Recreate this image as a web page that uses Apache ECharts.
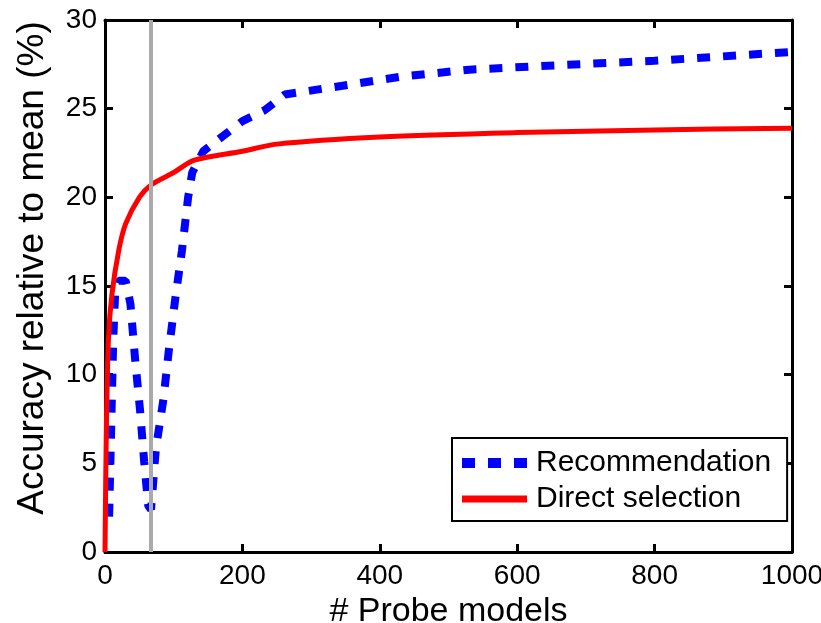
<!DOCTYPE html>
<html>
<head>
<meta charset="utf-8">
<script src="https://cdn.jsdelivr.net/npm/echarts@6/dist/echarts.min.js"></script>
<style>
  html, body { margin: 0; padding: 0; background: #fff; }
  #chart { width: 821px; height: 623px; }
</style>
</head>
<body>
<div id="chart"></div>
<script>
// values: [probe models, accuracy %]
var recommendation = [
  [6, 2.0], [9, 7.0], [12, 12.0], [15, 14.8], [20, 15.3], [30, 15.3], [37, 14.0],
  [44, 10.8], [51, 8.0], [57, 5.1], [63, 2.6], [67, 2.4], [74, 5.8],
  [85, 8.6], [93, 11.4], [102, 14.2], [112, 17.0], [121, 20.0], [127, 21.4],
  [143, 22.6], [200, 24.3], [232, 24.9], [262, 25.8], [330, 26.2],
  [430, 26.8], [530, 27.2], [660, 27.45], [800, 27.7], [1000, 28.2]
]
var directSelection = [
  [0, 0], [2, 7], [5, 12], [10, 14.5], [20, 17], [30, 18.5], [50, 20],
  [67, 20.7], [100, 21.4], [130, 22.1], [200, 22.6], [250, 23.0],
  [400, 23.4], [600, 23.65], [800, 23.8], [1000, 23.9]
]
var probeLine = 67
var seriesNames = ['Recommendation', 'Direct selection']

var font = 'Liberation Sans, Arial, sans-serif'
var myChart = echarts.init(document.getElementById('chart'))

var axisLine = { show: true, onZero: false, lineStyle: { color: '#000', width: 3 } }
var axisTick = { show: true, inside: true, length: 8, lineStyle: { color: '#000', width: 3 } }

// legend icons: three dashes for the dashed series, thinner bar for the solid one
var dashIcon = 'path://M0,0h13v10h-13zM26,0h13v10h-13zM52,0h13v10h-13z'
var barIcon = 'path://M0,0h65v0.01h-65zM0,1.5h65v7h-65zM0,9.99h65v0.01h-65z'

myChart.setOption({
  animation: false,
  grid: { left: 105, right: 29, top: 20, bottom: 71, containLabel: false, outerBoundsMode: 'none' },
  legend: {
    data: [
      { name: seriesNames[0], icon: dashIcon },
      { name: seriesNames[1], icon: barIcon }
    ],
    orient: 'vertical',
    left: 452,
    top: 438,
    itemWidth: 65,
    itemHeight: 10,
    itemGap: 6,
    padding: [10, 16, 7, 10],
    borderColor: '#000',
    borderWidth: 2,
    backgroundColor: '#fff',
    textStyle: { fontFamily: font, fontSize: 30, color: '#000', padding: [0, 0, 0, 4] }
  },
  xAxis: [
    {
      type: 'value',
      min: 0,
      max: 1000,
      interval: 200,
      name: '# Probe models',
      nameLocation: 'middle',
      nameGap: 33,
      nameTextStyle: { fontFamily: font, fontSize: 34, color: '#000' },
      axisLine: axisLine,
      axisTick: axisTick,
      splitLine: { show: false },
      axisLabel: {
        fontFamily: font, fontSize: 28, color: '#000', margin: 10,
        formatter: function (v) { return String(v) }
      }
    },
    {
      type: 'value',
      position: 'top',
      min: 0,
      max: 1000,
      interval: 200,
      axisLine: axisLine,
      axisTick: axisTick,
      splitLine: { show: false },
      axisLabel: { show: false }
    }
  ],
  yAxis: [
    {
      type: 'value',
      min: 0,
      max: 30,
      interval: 5,
      axisLine: axisLine,
      axisTick: axisTick,
      splitLine: { show: false },
      axisLabel: { fontFamily: font, fontSize: 28, color: '#000', margin: 8 }
    },
    {
      type: 'value',
      position: 'right',
      min: 0,
      max: 30,
      interval: 5,
      axisLine: axisLine,
      axisTick: axisTick,
      splitLine: { show: false },
      axisLabel: { show: false }
    }
  ],
  graphic: [
    {
      type: 'text',
      x: 14,
      y: 268,
      rotation: Math.PI / 2,
      style: {
        text: 'Accuracy relative to mean (%)',
        font: '37px ' + font,
        fill: '#000',
        align: 'center',
        verticalAlign: 'top'
      }
    }
  ],
  series: [
    {
      name: 'probe',
      type: 'line',
      data: [],
      markLine: {
        silent: true,
        symbol: 'none',
        label: { show: false },
        lineStyle: { color: '#aaaaaa', width: 4, type: 'solid' },
        data: [{ xAxis: probeLine }]
      }
    },
    {
      name: seriesNames[0],
      type: 'line',
      data: recommendation,
      showSymbol: false,
      symbol: 'none',
      z: 3,
      lineStyle: { color: '#0000ff', width: 8, type: [13, 13] },
      itemStyle: { color: '#0000ff' }
    },
    {
      name: seriesNames[1],
      type: 'line',
      data: directSelection,
      showSymbol: false,
      symbol: 'none',
      smooth: 0.3,
      z: 4,
      lineStyle: { color: '#ff0000', width: 5 },
      itemStyle: { color: '#ff0000' }
    }
  ]
})
</script>
</body>
</html>
